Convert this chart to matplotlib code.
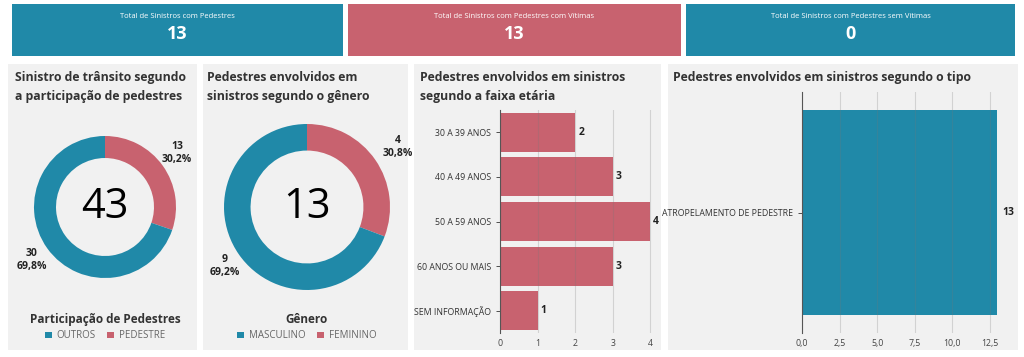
import matplotlib
matplotlib.use("Agg")
import matplotlib.pyplot as plt
from matplotlib.patches import Rectangle, Patch

plt.rcParams['font.family'] = ['Open Sans', 'DejaVu Sans']

# ---- data ----
kpi_titles = ['Total de Sinistros com Pedestres',
              'Total de Sinistros com Pedestres com Vítimas',
              'Total de Sinistros com Pedestres sem Vítimas']
kpi_values = [13, 13, 0]

part_labels = ['OUTROS', 'PEDESTRE']
part_values = [30, 13]

genero_labels = ['MASCULINO', 'FEMININO']
genero_values = [9, 4]

faixa_labels = ['30 A 39 ANOS', '40 A 49 ANOS', '50 A 59 ANOS', '60 ANOS OU MAIS', 'SEM INFORMAÇÃO']
faixa_values = [2, 3, 4, 3, 1]

tipo_labels = ['ATROPELAMENTO DE PEDESTRE']
tipo_values = [13]

TEAL = '#2089a8'
PINK = '#c8626f'
PANEL = '#f1f1f1'
DARK = '#333333'

W, H = 1024, 357
fig = plt.figure(figsize=(W / 100, H / 100), dpi=100)
fig.patch.set_facecolor('white')


def px_rect(x0, y0, x1, y1, color):
    fig.patches.append(Rectangle((x0 / W, 1 - y1 / H), (x1 - x0) / W, (y1 - y0) / H,
                                 transform=fig.transFigure, facecolor=color,
                                 edgecolor='none', zorder=-10))


def px_axes(x0, y0, x1, y1):
    return fig.add_axes([x0 / W, 1 - y1 / H, (x1 - x0) / W, (y1 - y0) / H])


def px_text(x, y, s, **kw):
    fig.text(x / W, 1 - y / H, s, **kw)


# ---- KPI cards ----
cards = [(12, 343, TEAL), (348, 681, PINK), (686, 1015, TEAL)]
for (x0, x1, c), t, v in zip(cards, kpi_titles, kpi_values):
    px_rect(x0, 4, x1, 56, c)
    cx = (x0 + x1) / 2
    px_text(cx, 17, t, color='white', fontsize=5.5, ha='center', va='center')
    px_text(cx, 34, str(v), color='white', fontsize=13, fontweight='bold', ha='center', va='center')

# ---- panels ----
panels = [(8, 197), (203, 408), (414, 661), (668, 1018)]
for x0, x1 in panels:
    px_rect(x0, 64, x1, 350, PANEL)

title_kw = dict(color=DARK, fontsize=8.8, fontweight='bold', ha='left', va='center', linespacing=1.55)
px_text(15, 87, 'Sinistro de trânsito segundo\na participação de pedestres', **title_kw)
px_text(207, 87, 'Pedestres envolvidos em\nsinistros segundo o gênero', **title_kw)
px_text(420, 87, 'Pedestres envolvidos em sinistros\nsegundo a faixa etária', **title_kw)
px_text(673, 78, 'Pedestres envolvidos em sinistros segundo o tipo', **title_kw)


# ---- donuts ----
def donut(cx, cy, r, width, labels, values, center, lab_pos, leg_title, leg_y):
    ax = px_axes(cx - r, cy - r, cx + r, cy + r)
    ax.pie(values[::-1], colors=[PINK, TEAL], startangle=90, counterclock=False,
           radius=1, wedgeprops=dict(width=width, edgecolor='none'))
    ax.set_xlim(-1, 1)
    ax.set_ylim(-1, 1)
    ax.set_aspect('equal')
    ax.axis('off')
    ax.text(0, 0, str(center), fontsize=30, ha='center', va='center', color='black')
    total = sum(values)
    for (lx, ly), v in zip(lab_pos, values):
        px_text(lx, ly, f'{v}\n{v / total * 100:.1f}%'.replace('.', ','), fontsize=7.5,
                fontweight='bold', color='#222222', ha='center', va='center', linespacing=1.3)
    handles = [Patch(facecolor=TEAL, edgecolor='none'), Patch(facecolor=PINK, edgecolor='none')]
    leg = fig.legend(handles, labels, title=leg_title, ncol=2, frameon=False,
                     loc='center', bbox_to_anchor=(cx / W, 1 - leg_y / H),
                     fontsize=7, handlelength=0.7, handleheight=0.7, handletextpad=0.5,
                     columnspacing=1.2, labelcolor='#666666',
                     title_fontproperties={'weight': 'bold', 'size': 8.5})
    leg.get_title().set_color(DARK)


donut(105, 207, 71, 0.31, part_labels, part_values, sum(part_values),
      [(32, 260), (177, 153)], 'Participação de Pedestres', 327)
donut(307, 207, 83, 0.32, genero_labels, genero_values, sum(genero_values),
      [(225, 266), (398, 147)], 'Gênero', 327)


def style_bar_axes(ax):
    ax.set_facecolor('none')
    ax.grid(axis='x', color='#777777', alpha=0.25, linewidth=0.8, zorder=3)
    ax.set_axisbelow(False)
    ax.tick_params(axis='both', labelsize=6.3, colors='#333333', length=3, width=0.6)
    ax.tick_params(axis='x', length=0, pad=4, colors='#444444')
    for s in ['top', 'right', 'bottom']:
        ax.spines[s].set_visible(False)
    ax.spines['left'].set_color('#555555')
    ax.spines['left'].set_linewidth(0.8)
    ax.spines['left'].set_zorder(4)


# ---- faixa etária ----
ax3 = px_axes(500, 110, 656, 333)
ypos = list(range(len(faixa_labels)))
ax3.barh(ypos, faixa_values, height=0.87, color=PINK, zorder=2)
ax3.set_ylim(len(faixa_labels) - 0.5, -0.5)
ax3.set_xlim(0, 4.15)
ax3.set_yticks(ypos)
ax3.set_yticklabels(faixa_labels)
ax3.set_xticks([0, 1, 2, 3, 4])
style_bar_axes(ax3)
for y, v in zip(ypos, faixa_values):
    ax3.text(v + 0.08, y, str(v), fontsize=7.5, fontweight='bold', color='#222222',
             va='center', ha='left')

# ---- tipo ----
ax4 = px_axes(802, 92, 999, 333)
ax4.barh([0], tipo_values, height=0.85, color=TEAL, zorder=2)
ax4.set_ylim(-0.5, 0.5)
ax4.set_xlim(0, 13.1)
ax4.set_yticks([0])
ax4.set_yticklabels(tipo_labels)
ax4.set_xticks([0, 2.5, 5.0, 7.5, 10.0, 12.5])
ax4.set_xticklabels(['0,0', '2,5', '5,0', '7,5', '10,0', '12,5'])
style_bar_axes(ax4)
for y, v in zip([0], tipo_values):
    ax4.text(v + 0.3, y, str(v), fontsize=7.5, fontweight='bold', color='#222222',
             va='center', ha='left')

fig.savefig('out.png', dpi=100, facecolor='white')
